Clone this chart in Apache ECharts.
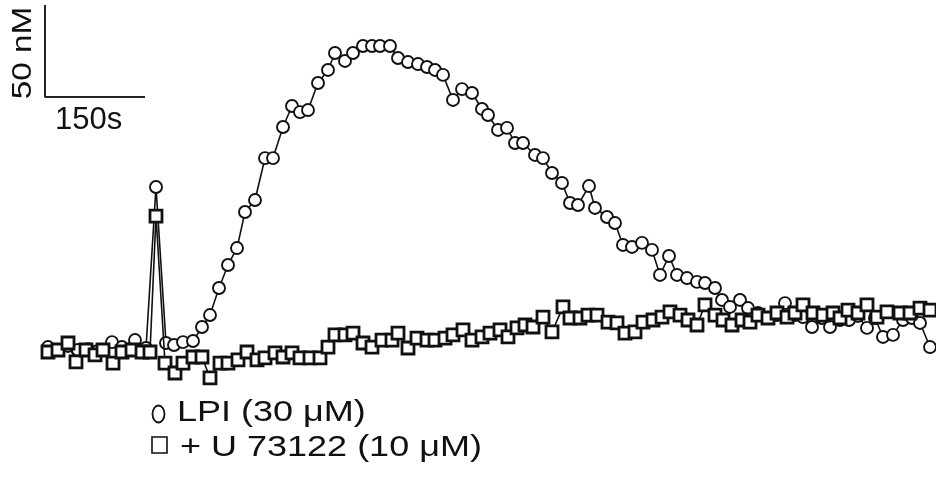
<!DOCTYPE html>
<html>
<head>
<meta charset="utf-8">
<script src="https://cdn.jsdelivr.net/npm/echarts@6/dist/echarts.min.js"></script>
<style>html,body{margin:0;padding:0;background:#fff}#c{width:936px;height:480px}</style>
</head>
<body>
<div id="c"></div>
<script>
// LPI (30 µM) — time (s) and [Ca2+] (nM)
const lpiTime = [4.5,19.5,34.5,49.5,64.5,79.5,100.5,115.5,135,151.5,166.5,181.5,193.5,207,222,235.5,247.5,261,274.5,288,300,315,330,342,357,370.5,382.5,394.5,409.5,424.5,435,450,462,477,490.5,502.5,517.5,529.5,544.5,559.5,573,585,597,612,625.5,640.5,655.5,664.5,679.5,693,705,717,735,747,760.5,775.5,787.5,799.5,816,825,843,855,867,880.5,895.5,910.5,922.5,936,948,963,978,990,1005,1015.5,1027.5,1042.5,1054.5,1069.5,1084.5,1098,1110,1125,1137,1150.5,1165.5,1177.5,1192.5,1206,1219.5,1233,1245,1257,1272,1287,1300.5,1312.5,1327.5];
const lpiConc = [101.6,100,102.2,100,100.5,99.5,104.3,101.6,105.4,101.1,188.6,103.8,102.7,104.3,104.9,112.5,119.0,133.7,146.2,155.4,175.0,181.5,204.3,204.3,221.2,232.6,229.3,230.4,245.1,252.2,261.4,257.1,261.4,265.2,265.2,265.2,265.2,258.7,256.5,255.4,253.8,252.2,249.5,235.9,241.8,239.7,231.0,227.7,219.6,220.7,212.5,212.5,206.0,204.3,196.2,190.8,179.9,178.8,189.1,177.2,172.3,169.0,157.1,156.0,158.2,154.4,140.8,151.1,140.8,139.1,137.0,136.4,133.7,127.2,123.4,127.2,122.8,120.1,117.4,119.0,125.5,119.0,117.9,112.5,117.4,112.5,116.3,116.3,118.5,112.0,117.4,107.1,108.2,116.3,117.4,114.7,101.6];

// + U 73122 (10 µM)
const uTime = [4.5,19.5,34.5,46.5,61.5,75,87,102,115.5,130.5,145.5,157.5,166.5,180,195,207,222,235.5,247.5,262.5,274.5,289.5,303,318,330,345,357,370.5,382.5,397.5,412.5,424.5,435,450,462,477,490.5,505.5,520.5,529.5,544.5,558,573,585,600,612,627,640.5,655.5,667.5,682.5,694.5,708,720,732,747,760.5,777,787.5,802.5,814.5,828,844.5,858,870,885,897,912,925.5,937.5,952.5,964.5,978,990,1005,1017,1030.5,1045.5,1057.5,1069.5,1084.5,1098,1113,1125,1137,1152,1167,1182,1192.5,1204.5,1219.5,1233,1248,1263,1282.5,1297.5,1312.5,1327.5];
const uConc = [98.9,100,103.8,93.5,100,97.3,100,92.9,98.9,100,98.9,98.9,172.8,92.9,87.5,92.9,96.2,96.2,84.8,92.9,92.9,94.6,98.9,94.6,95.7,98.4,96.2,98.4,95.7,95.7,95.7,101.6,108.2,108.2,109.2,103.8,101.6,105.4,105.4,109.2,101.1,106.5,105.4,105.4,106.5,108.2,110.9,105.4,107.1,109.2,110.9,107.1,112.0,113.6,112.5,117.9,109.8,123.4,117.4,117.4,119.0,119.0,115.2,114.7,109.2,109.8,115.2,116.3,117.9,120.7,119.0,116.3,113.6,124.5,119.0,116.3,113.6,116.3,115.2,119.0,117.4,120.1,117.9,120.1,124.5,120.1,119.0,120.1,117.4,121.7,120.1,124.5,117.9,120.7,120.1,120.1,122.8,121.7];

// scale bar: 150 s by 50 nM
const scaleBarTime = 150;
const scaleBarConc = 50;
const scaleBarOrigin = [0, 237.5];
const scaleBarTimeLabel = '150s';
const scaleBarConcLabel = '50 nM';
const legendLabels = ['LPI (30 \u03bcM)', '+ U 73122 (10 \u03bcM)'];

const zip = (a, b) => a.map((v, i) => [v, b[i]]);
const chart = echarts.init(document.getElementById('c'), null, {renderer: 'canvas'});
const FONT = '"Liberation Sans", Arial, sans-serif';

chart.setOption({
  animation: false,
  backgroundColor: '#fff',
  grid: {left: 0, right: 0, top: 0, bottom: 0},
  xAxis: {type: 'value', min: -67.5, max: 1336.5, show: false},
  yAxis: {type: 'value', min: 100 - 130 * 50 / 92, max: 100 + 350 * 50 / 92, show: false},
  series: [
    {
      type: 'line',
      data: [
        [scaleBarOrigin[0], scaleBarOrigin[1] + scaleBarConc],
        scaleBarOrigin,
        [scaleBarOrigin[0] + scaleBarTime, scaleBarOrigin[1]]
      ],
      symbol: 'none',
      lineStyle: {color: '#222', width: 2},
      z: 1
    },
    {
      name: 'LPI',
      type: 'line',
      data: zip(lpiTime, lpiConc),
      symbol: 'circle',
      symbolSize: 12,
      lineStyle: {color: '#111', width: 1.6},
      itemStyle: {color: '#fff', borderColor: '#111', borderWidth: 1.9},
      z: 2
    },
    {
      name: 'U73122',
      type: 'line',
      data: zip(uTime, uConc),
      symbol: 'rect',
      symbolSize: 12,
      lineStyle: {color: '#111', width: 1.6},
      itemStyle: {color: '#fff', borderColor: '#111', borderWidth: 2.8},
      z: 3
    }
  ],
  graphic: [
    {type: 'text', x: 55, y: 120, style: {text: scaleBarTimeLabel, fontSize: 31, fontFamily: FONT, fill: '#111', textAlign: 'left', textVerticalAlign: 'middle', align: 'left', verticalAlign: 'middle'}},
    {type: 'text', x: 23, y: 53, rotation: Math.PI / 2, scaleX: 1.19, style: {text: scaleBarConcLabel, fontSize: 28, fontFamily: FONT, fill: '#111', textAlign: 'center', textVerticalAlign: 'middle', align: 'center', verticalAlign: 'middle'}},
    {type: 'ellipse', shape: {cx: 158.5, cy: 414, rx: 6, ry: 8.5}, style: {fill: 'none', stroke: '#111', lineWidth: 1.8}},
    {type: 'rect', shape: {x: 152, y: 437, width: 15, height: 16}, style: {fill: 'none', stroke: '#111', lineWidth: 1.6}},
    {type: 'text', x: 177, y: 413, scaleX: 1.2, style: {text: legendLabels[0], fontSize: 30, fontFamily: FONT, fill: '#111', textAlign: 'left', textVerticalAlign: 'middle', align: 'left', verticalAlign: 'middle'}},
    {type: 'text', x: 180, y: 448, scaleX: 1.2, style: {text: legendLabels[1], fontSize: 30, fontFamily: FONT, fill: '#111', textAlign: 'left', textVerticalAlign: 'middle', align: 'left', verticalAlign: 'middle'}}
  ]
});
</script>
</body>
</html>
